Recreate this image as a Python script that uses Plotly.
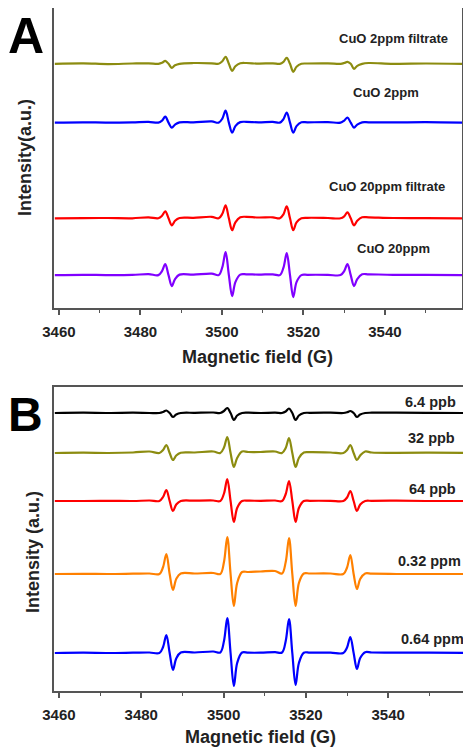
import plotly.graph_objects as go

# ---- shared field knots (G) ----
field = [3459, 3466, 3472, 3478, 3482,
         3484.4, 3485.3, 3486.1, 3486.9, 3487.7, 3488.5, 3489.6,
         3493, 3497.5,
         3499.2, 3500.1, 3500.9, 3501.7, 3502.5, 3503.3, 3504.5,
         3506, 3509, 3512.5,
         3514.2, 3515.1, 3515.9, 3516.7, 3517.5, 3518.3, 3519.5,
         3521, 3526,
         3529.1, 3530.0, 3530.8, 3531.6, 3532.4, 3533.2, 3534.4,
         3536, 3542, 3550, 3559]

# ---- Panel A spectra (a.u., relative to own baseline) ----
a_names = ["CuO 2ppm filtrate", "CuO 2ppm", "CuO 20ppm filtrate", "CuO 20ppm"]
a_offsets = [245, 186, 90, 33]
a_olive = [0, 0.5, -0.3, 0.3, 0.5,
           0, 1, 3, 0, -4, -1.5, 0,
           0.8, 0.5,
           0, 2.5, 7, 0, -7, -2.5, 0.5,
           0.8, 0.2, 0.5,
           0, 2, 6, 0, -8, -3, 0,
           0.3, 0.5,
           0, 0.8, 2, 0, -5, -2, 0,
           0.8, 0, 0.3, 0]
a_blue = [0, 0.3, 0, 0.3, 0.8,
          0, 2, 6, 0, -5, -2, 0.3,
          0.3, 1.2,
          0, 4, 12, 0, -10, -3.5, 0.5,
          0.8, 0.3, 0.8,
          0, 3.5, 10, 0, -10, -3.5, 0.3,
          0.3, 0.5,
          0, 2, 5, 0, -5, -2, 0.3,
          0.3, 0.2, 0.5, 0]
a_red = [0, 0.2, 0.3, 0, 1,
         0, 2.5, 7, 0, -7, -2.5, 0.3,
         0.5, 1.5,
         0, 4.5, 13, 0, -12, -4, 1,
         1.5, 0.8, 1,
         0, 4, 12, 0, -12, -4, 0,
         0.5, 0.3,
         0, 2, 6, 0, -7, -2.5, 1,
         1, 0.3, 0.2, 0]
a_purple = [0, 0.3, 0, 0.2, 1,
            0, 4, 11, 0, -11, -4, 0.5,
            0.5, 1.5,
            0, 8, 23, 0, -21, -7, 0.5,
            0.8, 0.5, 0.8,
            0, 7.5, 22, 0, -22, -7, 0,
            0.3, 0.3,
            0, 4, 11, 0, -11, -4, 0.8,
            0.8, 0.3, 0.2, 0]

# ---- Panel B spectra ----
b_names = ["6.4 ppb", "32 ppb", "64 ppb", "0.32 ppm", "0.64 ppm"]
b_offsets = [278, 238, 190, 117, 38]
b_black = [0, 0.3, 0, 0.3, 0,
           0, 1, 2.5, 0, -4, -1.5, 0,
           0.2, 0.5,
           0, 2, 5, 0, -7, -2.5, 0,
           0.3, 0, 0.3,
           0, 1.5, 4.5, 0, -7, -2.5, 0,
           0.2, 0.3,
           0, 0.7, 2, 0, -4, -1.5, 0,
           0.3, 0.3, 0.2, 0]
b_olive = [0, 0.3, 0, 0.5, 1.5,
           0, 3, 8, 0, -7, -2.5, 0.3,
           0.5, 1.5,
           0, 5.5, 16, 0, -14, -5, 1.5,
           1, 1, 1.5,
           0, 5, 15, 0, -14, -5, 0.5,
           0.8, 0.5,
           0, 3, 8, 0, -7, -2.5, 1.5,
           0.5, 0.2, 0.3, 0]
b_red = [0, 0, 0.2, 0, 0.5,
         0, 4, 11, 0, -10, -3.5, 0,
         0.3, 0.5,
         0, 7.5, 22, 0, -21, -7, 0,
         0.3, 0.2, 0.5,
         0, 7, 20, 0, -21, -7, 0,
         0.2, 0.2,
         0, 3.5, 10, 0, -10, -3.5, 0,
         0.2, 0.3, 0, 0]
b_orange = [0, 0.2, 0, 0.3, 0.5,
            0, 7, 20, 0, -16, -5, 0.5,
            0.5, 1,
            0, 12, 37, 0, -32, -9, 2,
            2, 2.5, 3,
            0.5, 12, 36, 0, -32, -9, 0.5,
            0.5, 0.5,
            0, 6.5, 19, 0, -15, -5, 0.5,
            0.3, 0, 0, 0]
b_blue = [0, 0.3, 0, 0.3, 0.5,
          0, 6, 18, 0, -17, -5.5, 0.5,
          0.5, 1.5,
          0.5, 12, 35, 0, -33, -10, 0.5,
          0.3, 0.3, 0.8,
          0.5, 12, 34, 0, -32, -10, 0.3,
          0.3, 0.3,
          0, 5.5, 16, 0, -16, -5, 0.8,
          0.5, 0.3, 0.3, 0]

a_series = [a_olive, a_blue, a_red, a_purple]
a_colors = ["#8c8c10", "#0000ff", "#ff0000", "#8000ff"]
b_series = [b_black, b_olive, b_red, b_orange, b_blue]
b_colors = ["#000000", "#8c8c10", "#ff0000", "#ff8000", "#0000ff"]

# page body margin offsets the figure by 8 px
OFF = 8
W, H = 471 - OFF, 750 - OFF

def px_x(p):
    return (p - OFF) / W

def px_y(p):
    return 1 - (p - OFF) / H

fig = go.Figure()

for ys, off, col, nm in zip(a_series, a_offsets, a_colors, a_names):
    fig.add_trace(go.Scatter(x=field, y=[v + off for v in ys], mode="lines",
                             line=dict(color=col, width=2.2, shape="spline", smoothing=1),
                             name=nm, xaxis="x", yaxis="y", showlegend=False))
for ys, off, col, nm in zip(b_series, b_offsets, b_colors, b_names):
    fig.add_trace(go.Scatter(x=field, y=[v + off for v in ys], mode="lines",
                             line=dict(color=col, width=2.2, shape="spline", smoothing=1),
                             name=nm, xaxis="x2", yaxis="y2", showlegend=False))

FONT = "Liberation Sans, Arial, sans-serif"
axcol = "#555555"

def xax(dom, anchor):
    return dict(domain=dom, anchor=anchor, range=[3458.8, 3558.9], automargin=False,
                tick0=3460, dtick=20, ticks="outside", ticklen=5, tickwidth=1.5,
                tickcolor=axcol, showline=True, linecolor=axcol, linewidth=1.5,
                mirror=True, showgrid=False, zeroline=False,
                ticklabelstandoff=4,
                tickfont=dict(family=FONT, size=15, color="#222222", weight="bold"),
                minor=dict(dtick=10, tick0=3460, ticks="outside", ticklen=3,
                           tickwidth=1.2, tickcolor=axcol))

def yax(dom, anchor, rng):
    return dict(domain=dom, anchor=anchor, range=rng, showticklabels=False,
                automargin=False,
                ticks="", showline=True, linecolor=axcol, linewidth=1.5,
                mirror=True, showgrid=False, zeroline=False)

fig.update_layout(
    width=W, height=H, margin=dict(l=0, r=0, t=0, b=0, autoexpand=False),
    paper_bgcolor="white", plot_bgcolor="white",
    xaxis=xax([px_x(54), px_x(462)], "y"),
    yaxis=yax([px_y(308), 1.0], "x", [0, 301]),
    xaxis2=xax([px_x(54), px_x(466)], "y2"),
    yaxis2=yax([px_y(691), px_y(387)], "x2", [0, 304]),
)

ann = []
a_lab_pos = [(3542, 270), (3540.2, 216), (3540.5, 122), (3542, 60)]
for nm, (x, y) in zip(a_names, a_lab_pos):
    ann.append(dict(text=nm, x=x, y=y, xref="x", yref="y", showarrow=False,
                    font=dict(family=FONT, size=13, color="#222222", weight="bold")))
b_lab_pos = [(3550.2, 289), (3550.4, 253), (3550.7, 202), (3550, 130), (3550.7, 52)]
for nm, (x, y) in zip(b_names, b_lab_pos):
    ann.append(dict(text=nm, x=x, y=y, xref="x2", yref="y2", showarrow=False,
                    font=dict(family=FONT, size=14.5, color="#222222", weight="bold")))

def paper(px, py):
    return px_x(px), px_y(py)

for txt, (px, py), sz in [("A", (26, 36), 50), ("B", (25, 415), 48)]:
    x, y = paper(px, py)
    ann.append(dict(text=txt, x=x, y=y, xref="paper", yref="paper", showarrow=False,
                    xanchor="center", yanchor="middle",
                    font=dict(family=FONT, size=sz, color="black", weight="bold")))

for txt, (px, py) in [("Magnetic field (G)", (258, 357)), ("Magnetic field (G)", (260, 737))]:
    x, y = paper(px, py)
    ann.append(dict(text=txt, x=x, y=y, xref="paper", yref="paper", showarrow=False,
                    xanchor="center", yanchor="middle",
                    font=dict(family=FONT, size=18, color="#222222", weight="bold")))

for txt, (px, py) in [("Intensity(a.u.)", (25, 158)), ("Intensity (a.u.)", (33, 552))]:
    x, y = paper(px, py)
    ann.append(dict(text=txt, x=x, y=y, xref="paper", yref="paper", showarrow=False,
                    textangle=-90, xanchor="center", yanchor="middle",
                    font=dict(family=FONT, size=18, color="#222222", weight="bold")))

fig.update_layout(annotations=ann)
fig.write_html("out.html")
